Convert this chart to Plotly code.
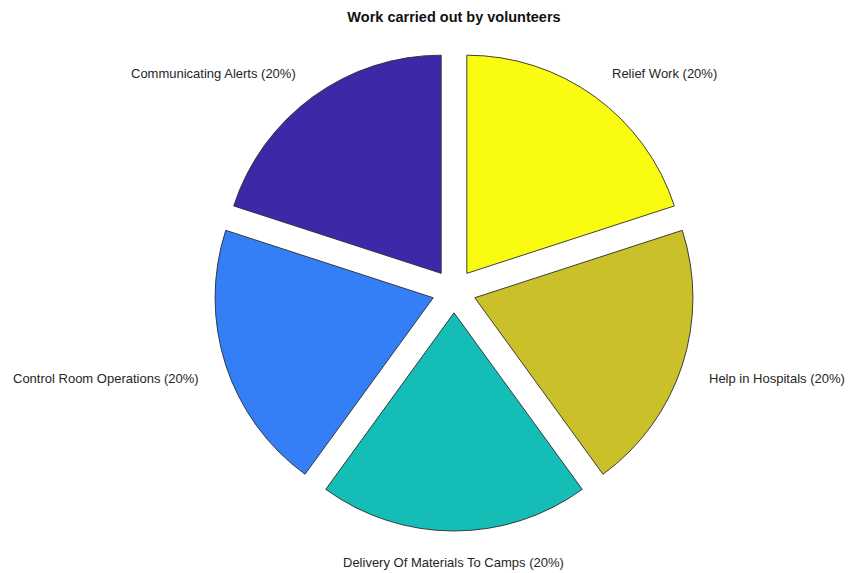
import math
import plotly.graph_objects as go

# Volunteer activities and their shares
activities = [
    "Relief Work",
    "Help in Hospitals",
    "Delivery Of Materials To Camps",
    "Control Room Operations",
    "Communicating Alerts",
]
shares = [20, 20, 20, 20, 20]
slice_colors = ["#F9FB10", "#CAC02A", "#14BDB6", "#347FF6", "#3D28A8"]

labels_text = [f"{a} ({s}%)" for a, s in zip(activities, shares)]

W, H = 857, 573
M_T, M_B = 51, 42
PLOT_H = H - M_T - M_B
cx, cy = 454, 291          # pie centre (pixels)
pull = 0.1
radius = 240 / (1 + pull)  # unpulled radius (pixels)
label_dist = 1.22          # label distance from centre, in radii
FONT = "Liberation Sans, Arial, sans-serif"

fig = go.Figure(
    go.Pie(
        labels=activities,
        values=shares,
        textinfo="none",
        sort=False,
        direction="clockwise",
        rotation=0,
        pull=[pull] * len(shares),
        marker=dict(colors=slice_colors, line=dict(color="#2b2b2b", width=0.9)),
        hoverinfo="skip",
        showlegend=False,
        domain=dict(x=[(cx - 240) / W, (cx + 240) / W], y=[0, 1]),
    )
)

# Labels placed along each slice's bisector, outside the pie
total = sum(shares)
start = 90.0
for txt, s in zip(labels_text, shares):
    sweep = 360.0 * s / total
    mid = math.radians(start - sweep / 2)
    start -= sweep
    c, si = math.cos(mid), math.sin(mid)
    px = cx + label_dist * radius * c
    py = cy - label_dist * radius * si
    if abs(c) < 0.2:
        xanchor = "center"
    else:
        xanchor = "left" if c > 0 else "right"
    fig.add_annotation(
        x=px / W,
        y=(H - M_B - py) / PLOT_H,
        xref="paper",
        yref="paper",
        text=txt,
        showarrow=False,
        xanchor=xanchor,
        yanchor="middle",
        yshift=2 if si > 0 else -5,
        font=dict(family=FONT, size=13, color="#262626"),
    )

fig.update_layout(
    width=W,
    height=H,
    margin=dict(l=0, r=0, t=M_T, b=M_B),
    paper_bgcolor="white",
    plot_bgcolor="white",
    title=dict(
        text="<b>Work carried out by volunteers</b>",
        x=cx / W,
        xanchor="center",
        y=1 - 17 / H,
        yanchor="middle",
        font=dict(family=FONT, size=14.5, color="#111111"),
    ),
)

fig.write_html("out.html")
